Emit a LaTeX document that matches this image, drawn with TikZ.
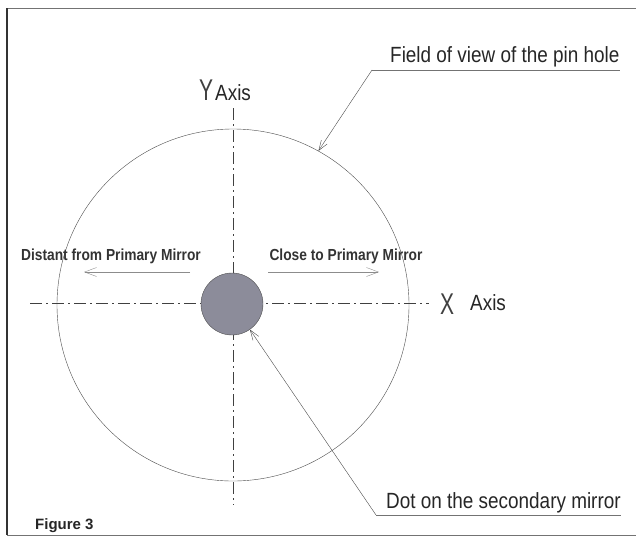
\documentclass[tikz,border=0pt]{standalone}
\usepackage{fontspec}
\setmainfont{Liberation Sans}
\newfontfamily\condfont[FakeStretch=0.86]{Liberation Sans}
\newfontfamily\thinfont[FakeStretch=0.7]{Liberation Sans}
\usetikzlibrary{arrows.meta, positioning}
\definecolor{dotgray}{RGB}{140,140,154}

\begin{document}
\begin{tikzpicture}[x=1pt, y=-1pt,
  lbl/.style={font=\condfont\fontsize{22}{24}\selectfont, inner sep=0pt, text=black!85},
  small/.style={font=\condfont\bfseries\fontsize{16}{18}\selectfont, inner sep=0pt, text=black!80},
  big/.style={font=\thinfont\fontsize{30}{32}\selectfont, inner sep=0pt, text=black!75},
  axisline/.style={draw=black!75, dash pattern=on 12pt off 4pt on 2pt off 4pt},
  ptr/.style={-{Straight Barb[length=10pt,width=7pt]}, draw=black!70},
  dirarr/.style={-{Straight Barb[length=12pt,width=9pt]}, draw=black!45},
  uline/.style={draw=black!55}
]
\useasboundingbox (0,0) rectangle (636,538);
% frame
\draw[black!55] (636,8) -- (7,8);
\draw[black!55] (7,535) -- (636,535);
\draw[black!80, line width=1.2pt] (7,8) -- (7,535);

% field of view and dot
\node[circle, draw=black!70, minimum size=352pt, inner sep=0pt] (fov) at (233,305) {};

% axes
\node[big, anchor=base] (ychar) at (206,100) {Y};
\node[lbl, anchor=base west] (ytxt) at (215,100) {Axis};
\node[big, anchor=base] (xchar) at (447,314) {X};
\node[lbl, anchor=base west] (xtxt) at (470,310) {Axis};
\coordinate (ytop) at (233,108);
\coordinate (ybot) at (233,505);
\coordinate (xleft) at (30,303);
\coordinate (xright) at (429,303);
\draw[axisline] (ytop) -- (ybot);
\draw[axisline] (xleft) -- (xright);

\node[circle, draw=black!70, fill=dotgray, minimum size=62pt, inner sep=0pt] (dot) at (232,304) {};

% direction arrows
\node[small, anchor=base] (disttxt) at (111,260) {Distant from Primary Mirror};
\node[small, anchor=base] (closetxt) at (346,260) {Close to Primary Mirror};
\coordinate (dista) at (190,272);
\coordinate (distb) at (84,272);
\coordinate (closea) at (268,272);
\coordinate (closeb) at (379,272);
\draw[dirarr] (dista) -- (distb);
\draw[dirarr] (closea) -- (closeb);

% callouts
\node[lbl, anchor=base west] (fovtxt) at (390,62) {Field of view of the pin hole};
\coordinate (fovknee) at (372,70);
\draw[ptr] (fovknee) -- (fov.61);
\draw[uline] (fovknee) -- (fovknee -| fovtxt.east);

\node[lbl, anchor=base west] (dottxt) at (386,508) {Dot on the secondary mirror};
\coordinate (dotknee) at (376,515);
\draw[ptr] (dotknee) -- (dot.-55);
\draw[uline] (dotknee) -- (dotknee -| dottxt.east);

\node[font=\fontsize{15}{18}\selectfont\bfseries, inner sep=0pt, text=black!85, anchor=base west] (figtxt) at (35,529) {Figure 3};
\end{tikzpicture}
\end{document}
